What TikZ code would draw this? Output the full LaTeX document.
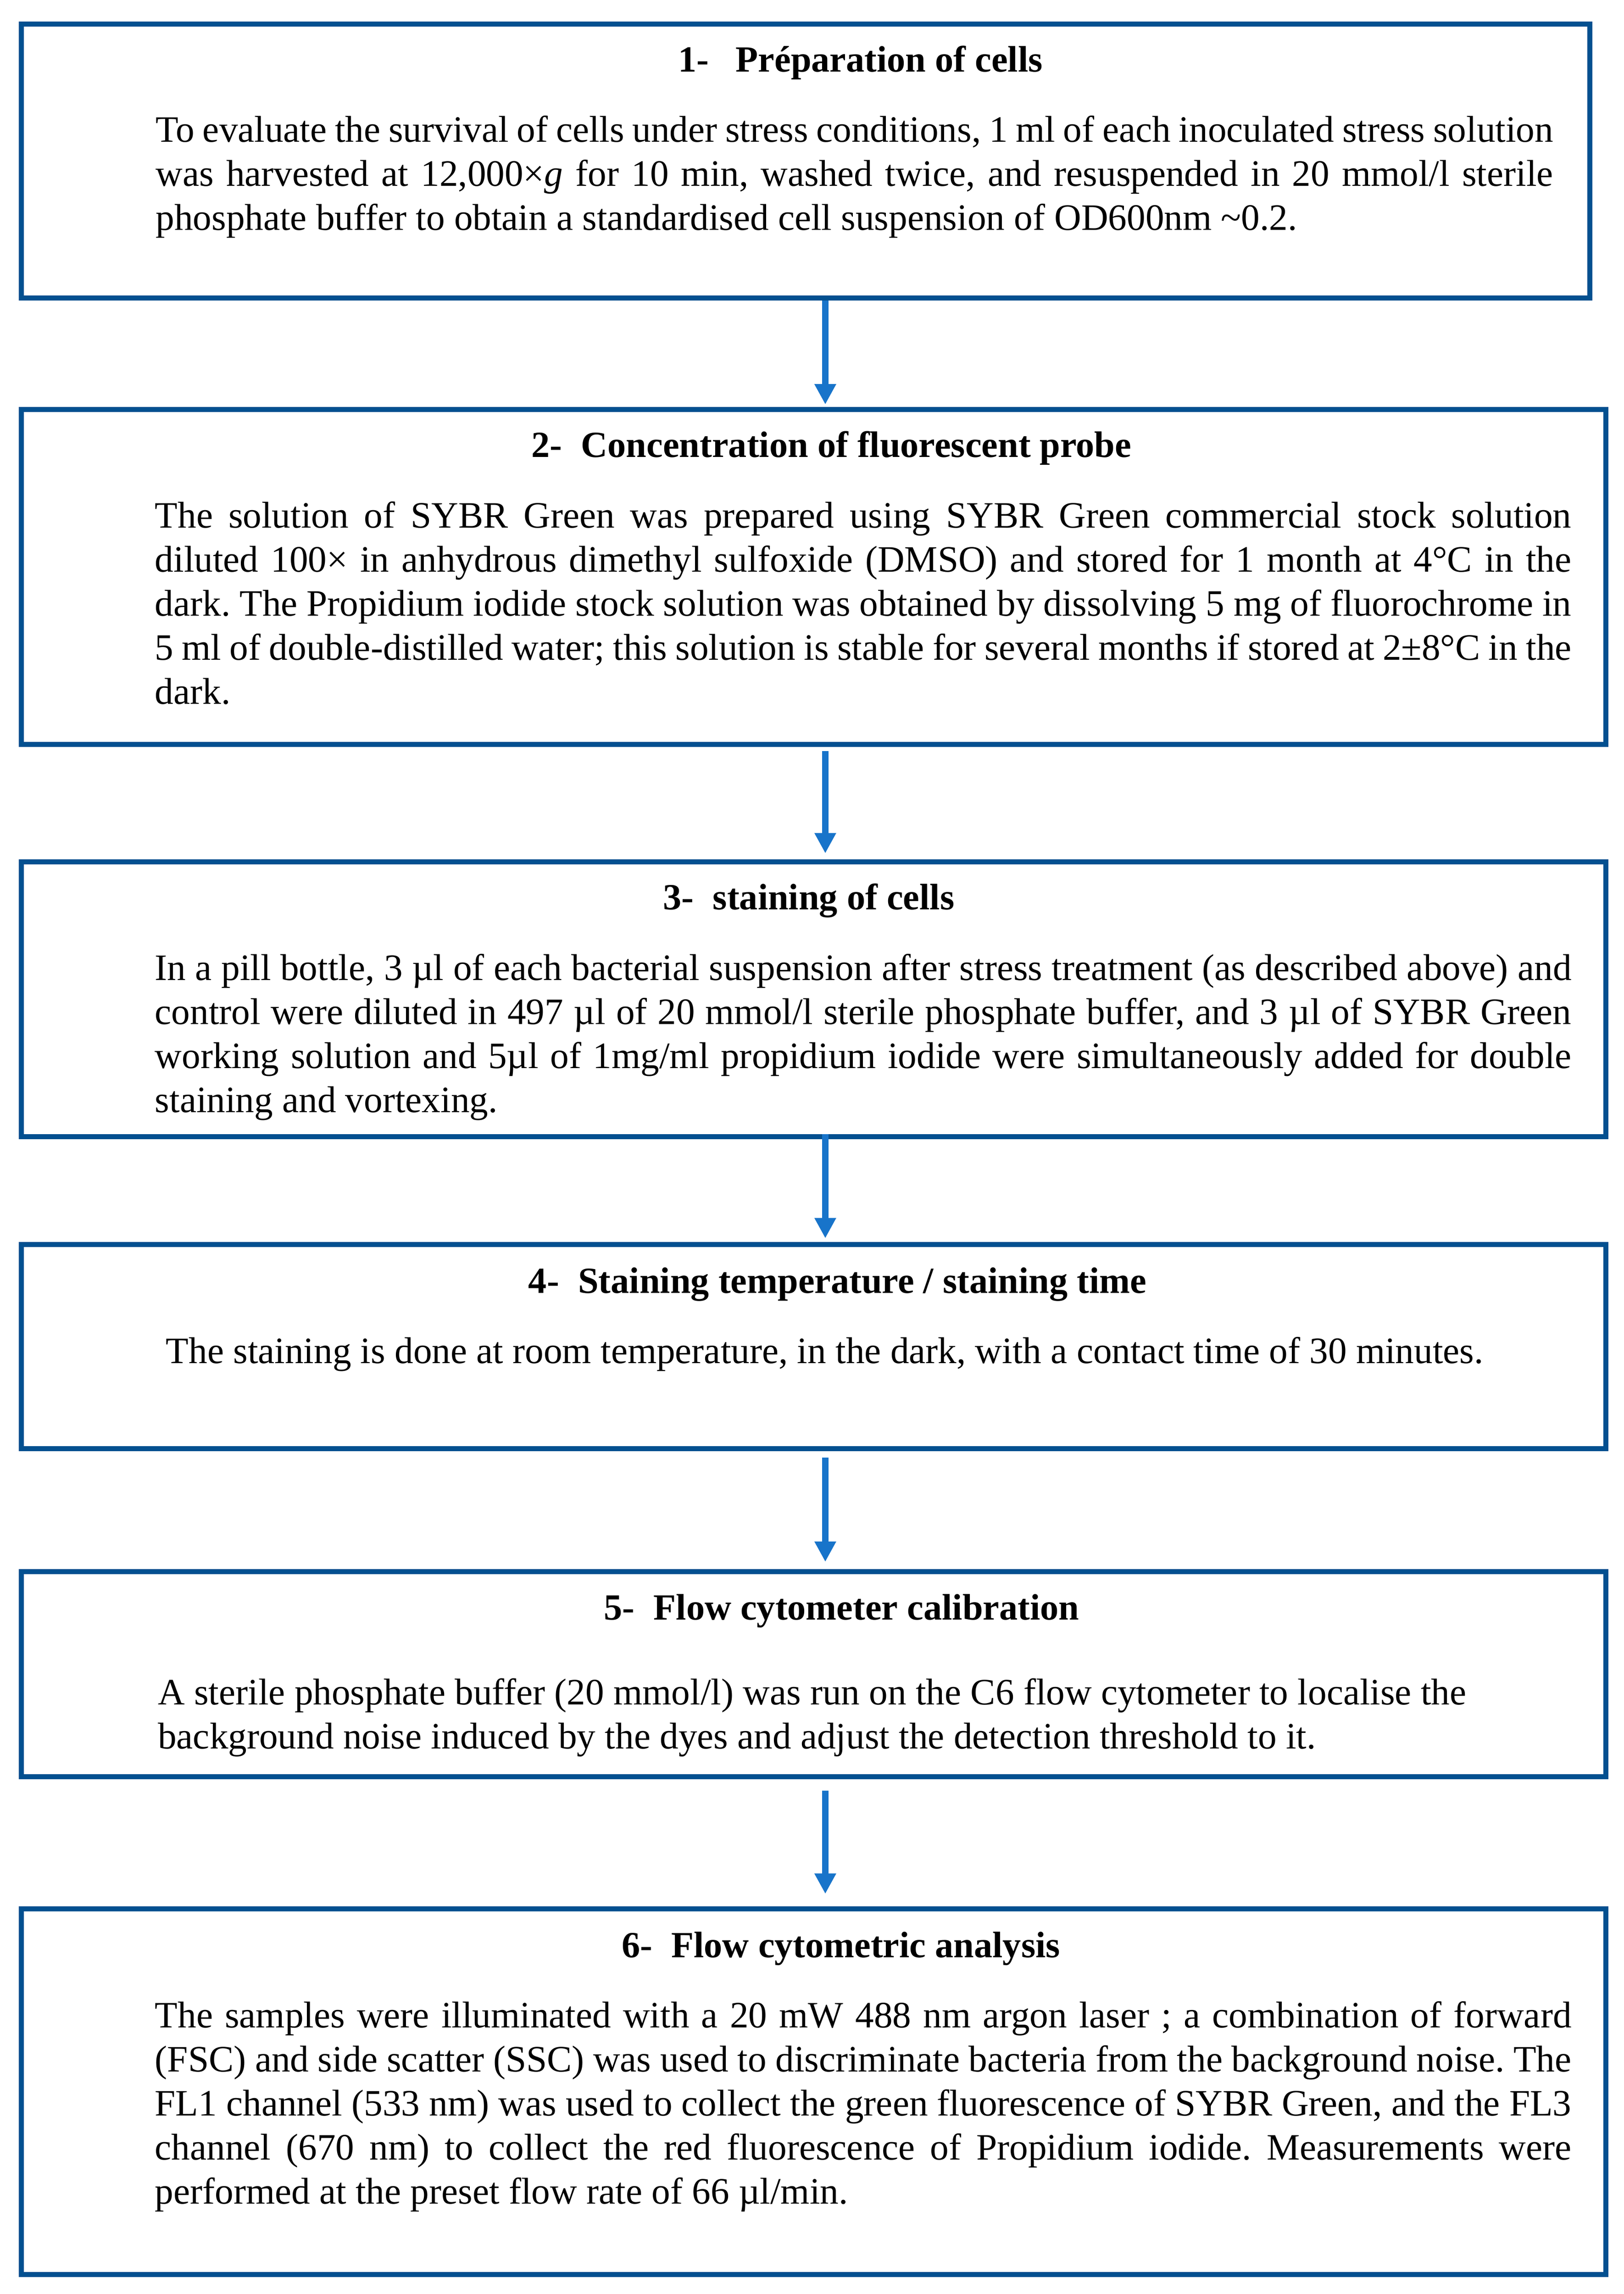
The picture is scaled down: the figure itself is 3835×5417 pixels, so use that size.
\documentclass[tikz,border=0pt]{standalone}
\usepackage{fontspec}
\setmainfont{Liberation Serif}
\usetikzlibrary{arrows.meta,calc}
\definecolor{boxblue}{RGB}{3,80,144}
\definecolor{arrblue}{RGB}{24,116,202}
\newcommand\sps{\frenchspacing\spaceskip=.25em plus .3em minus .06em\xspaceskip=\spaceskip\relax}
\newcommand\jl[1]{\leavevmode\hbox to \hsize{\sps #1}}
\begin{document}
\begin{tikzpicture}[x=0.2pt,y=-0.2pt,
  stepbox/.style={draw=boxblue,line width=2.4pt,fill=none,inner sep=0pt,rectangle},
  ttl/.style={anchor=base west,inner sep=0pt,font=\fontsize{17.4pt}{20.8pt}\selectfont\bfseries},
  body/.style={anchor=base west,inner sep=0pt,align=left,font=\fontsize{17.6pt}{20.8pt}\selectfont},
  arr/.style={draw=arrblue,line width=3.2pt,-{Triangle[width=9.6pt,length=9.6pt]},arrblue}]
\useasboundingbox (0,0) rectangle (3835,5417);
\fill[white] (0,0) rectangle (3835,5417);
\coordinate (ax) at (1949,0);
% boxes
\node[stepbox,minimum width=740.7pt,minimum height=129.5pt] (b1) at (1902.25,380.25) {};
\node[stepbox,minimum width=748.3pt,minimum height=158.2pt] (b2) at (1921.25,1362.5) {};
\node[stepbox,minimum width=748.3pt,minimum height=129.8pt] (b3) at (1921.25,2359.5) {};
\node[stepbox,minimum width=748.3pt,minimum height=96.4pt] (b4) at (1921.25,3180) {};
\node[stepbox,minimum width=748.3pt,minimum height=96.8pt] (b5) at (1921.25,3953) {};
\node[stepbox,minimum width=748.3pt,minimum height=172.8pt] (b6) at (1921.25,4939) {};
% titles
\node[ttl] (t1) at (1601,169) {1-\hspace{12.6pt}Préparation of cells};
\node[ttl] (t2) at (1254,1080) {2-\hspace{9pt}Concentration of fluorescent probe};
\node[ttl] (t3) at (1565,2148) {3-\hspace{9pt}staining of cells};
\node[ttl] (t4) at (1247,3054) {4-\hspace{9pt}Staining temperature / staining time};
\node[ttl] (t5) at (1425,3825) {5-\hspace{9pt}Flow cytometer calibration};
\node[ttl] (t6) at (1467,4622) {6-\hspace{9pt}Flow cytometric analysis};
% bodies
\node[body,text width=660pt] (p1) at (367,335) {\sps
\jl{To evaluate the survival of cells under stress conditions, 1 ml of each inoculated stress solution}\\
\jl{was harvested at 12,000×\textit{g} for 10 min, washed twice, and resuspended in 20 mmol/l sterile}\\
phosphate buffer to obtain a standardised cell suspension of OD600nm \textasciitilde0.2.};
\node[body,text width=669pt] (p2) at (365,1246) {\sps
\jl{The solution of SYBR Green was prepared using SYBR Green commercial stock solution}\\
\jl{diluted 100× in anhydrous dimethyl sulfoxide (DMSO) and stored for 1 month at 4°C in the}\\
\jl{dark. The Propidium iodide stock solution was obtained by dissolving 5 mg of fluorochrome in}\\
\jl{5 ml of double-distilled water; this solution is stable for several months if stored at 2±8°C in the}\\
dark.};
\node[body,text width=669pt] (p3) at (365,2315) {\sps
\jl{In a pill bottle, 3 µl of each bacterial suspension after stress treatment (as described above) and}\\
\jl{control were diluted in 497 µl of 20 mmol/l sterile phosphate buffer, and 3 µl of SYBR Green}\\
\jl{working solution and 5µl of 1mg/ml propidium iodide were simultaneously added for double}\\
staining and vortexing.};
\node[body] (p4) at (391,3219) {The staining is done at room temperature, in the dark, with a contact time of 30 minutes.};
\node[body,text width=669pt] (p5) at (372,4025) {\sps
A sterile phosphate buffer (20 mmol/l) was run on the C6 flow cytometer to localise the\\
background noise induced by the dyes and adjust the detection threshold to it.};
\node[body,text width=669pt] (p6) at (365,4788) {\sps
\jl{The samples were illuminated with a 20 mW 488 nm argon laser ; a combination of forward}\\
\jl{(FSC) and side scatter (SSC) was used to discriminate bacteria from the background noise. The}\\
\jl{FL1 channel (533 nm) was used to collect the green fluorescence of SYBR Green, and the FL3}\\
\jl{channel (670 nm) to collect the red fluorescence of Propidium iodide. Measurements were}\\
performed at the preset flow rate of 66 µl/min.};
% arrows
\draw[arr,shorten <=0pt,shorten >=1.2pt] (b1.south -| ax) -- (b2.north -| ax);
\draw[arr,shorten <=1.8pt,shorten >=2.8pt] (b2.south -| ax) -- (b3.north -| ax);
\draw[arr,shorten <=-2.4pt,shorten >=1.8pt] (b3.south -| ax) -- (b4.north -| ax);
\draw[arr,shorten <=3pt,shorten >=3.4pt] (b4.south -| ax) -- (b5.north -| ax);
\draw[arr,shorten <=5.4pt,shorten >=5.8pt] (b5.south -| ax) -- (b6.north -| ax);
\end{tikzpicture}
\end{document}
